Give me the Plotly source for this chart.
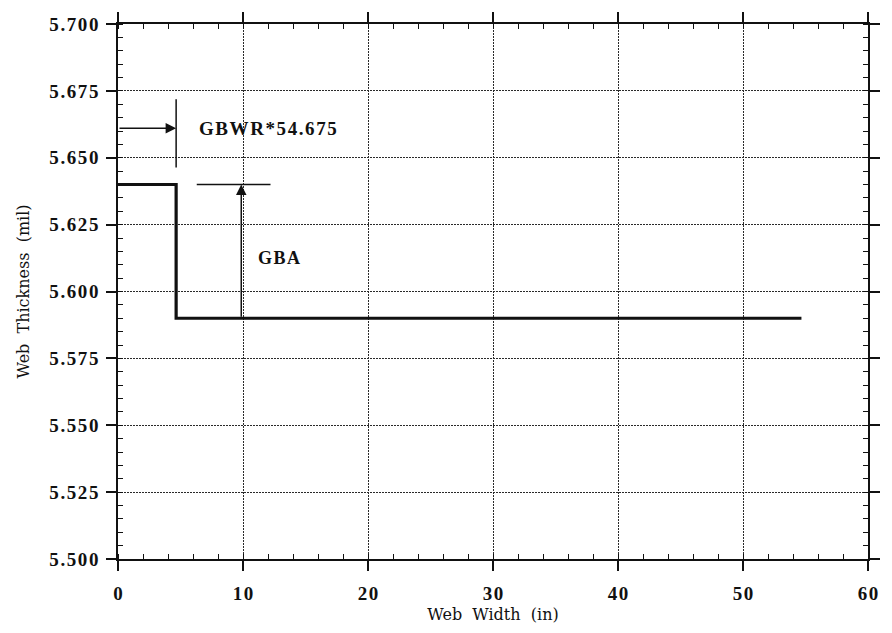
import plotly.graph_objects as go

# Web thickness profile across the web width
width_in = [0.0, 4.65, 54.675]
thickness_mil = [5.640, 5.590, 5.590]

# Dimension markers
gbwr_step_x = 4.65          # GBWR*54.675
gbwr_arrow_y = 5.661
gbwr_bar_y = [5.6464, 5.6719]
gbwr_label_x = 6.3
gba_x = 9.86
gba_top = 5.640
gba_base = 5.590
gba_ref_line_x = [6.3, 12.2]
gba_label_xy = (12.9, 5.6124)

HS = "\u200a"  # hair space for the wide typewriter-like spacing

x_ticks = [0, 10, 20, 30, 40, 50, 60]
x_tick_labels = [HS.join(str(v)) for v in x_ticks]
y_ticks = [5.500, 5.525, 5.550, 5.575, 5.600, 5.625, 5.650, 5.675, 5.700]
y_tick_labels = [HS.join(f"{v:.3f}") for v in y_ticks]

SERIF = "Liberation Serif"
TITLE_SERIF = "DejaVu Serif"
INK = "#111111"

fig = go.Figure()
fig.add_trace(go.Scatter(
    x=width_in, y=thickness_mil, mode="lines", line_shape="hv",
    line=dict(color=INK, width=3.2), showlegend=False, hoverinfo="skip",
))

# GBWR vertical bar
fig.add_shape(type="line", xref="x", yref="y",
              x0=gbwr_step_x, x1=gbwr_step_x, y0=gbwr_bar_y[0], y1=gbwr_bar_y[1],
              line=dict(color=INK, width=1.5))
# GBA reference line at the upper level
fig.add_shape(type="line", xref="x", yref="y",
              x0=gba_ref_line_x[0], x1=gba_ref_line_x[1], y0=gba_top, y1=gba_top,
              line=dict(color=INK, width=1.5))

# Arrows
fig.add_annotation(x=gbwr_step_x, y=gbwr_arrow_y, ax=0, ay=gbwr_arrow_y,
                   xref="x", yref="y", axref="x", ayref="y", text="",
                   showarrow=True, arrowhead=2, arrowsize=1.4, arrowwidth=1.5,
                   arrowcolor=INK)
fig.add_annotation(x=gba_x, y=gba_top, ax=gba_x, ay=gba_base,
                   xref="x", yref="y", axref="x", ayref="y", text="",
                   showarrow=True, arrowhead=2, arrowsize=1.4, arrowwidth=1.5,
                   arrowcolor=INK)

# Labels
fig.add_annotation(x=gbwr_label_x, y=gbwr_arrow_y, xref="x", yref="y",
                   text="<b>" + HS.join("GBWR*54.675") + "</b>",
                   showarrow=False, xanchor="left", yanchor="middle",
                   font=dict(family=SERIF, size=19, color=INK))
fig.add_annotation(x=gba_label_xy[0], y=gba_label_xy[1], xref="x", yref="y",
                   text="<b>" + HS.join("GBA") + "</b>",
                   showarrow=False, xanchor="center", yanchor="middle",
                   font=dict(family=SERIF, size=18, color=INK))

axis_common = dict(
    showline=True, linecolor=INK, linewidth=1.5, mirror="allticks",
    ticks="outside", ticklen=10, tickwidth=1.5, tickcolor=INK,
    showgrid=True, gridcolor="#2a2a2a", gridwidth=1, griddash="2px,1px",
    zeroline=False,
    tickfont=dict(family=SERIF, size=19, color=INK, weight="bold"),
)

fig.update_xaxes(
    range=[0, 60], tickmode="array", tickvals=x_ticks, ticktext=x_tick_labels,
    minor=dict(dtick=2, ticks="inside", ticklen=5, tickwidth=1, tickcolor=INK, showgrid=False),
    ticklabelstandoff=6,
    title=dict(text="Web  Width  (in)", font=dict(family=TITLE_SERIF, size=16, color=INK), standoff=6),
    **axis_common,
)
fig.update_yaxes(
    range=[5.5, 5.7], tickmode="array", tickvals=y_ticks, ticktext=y_tick_labels,
    minor=dict(dtick=0.005, ticks="inside", ticklen=5, tickwidth=1, tickcolor=INK, showgrid=False),
    ticklabelstandoff=4,
    title=dict(text="Web  Thickness  (mil)", font=dict(family=TITLE_SERIF, size=16, color=INK), standoff=16),
    **axis_common,
)

fig.update_layout(
    width=892, height=633,
    margin=dict(l=118, r=13, t=18, b=74),
    paper_bgcolor="white", plot_bgcolor="white",
    showlegend=False,
)

fig.write_html("out.html")
